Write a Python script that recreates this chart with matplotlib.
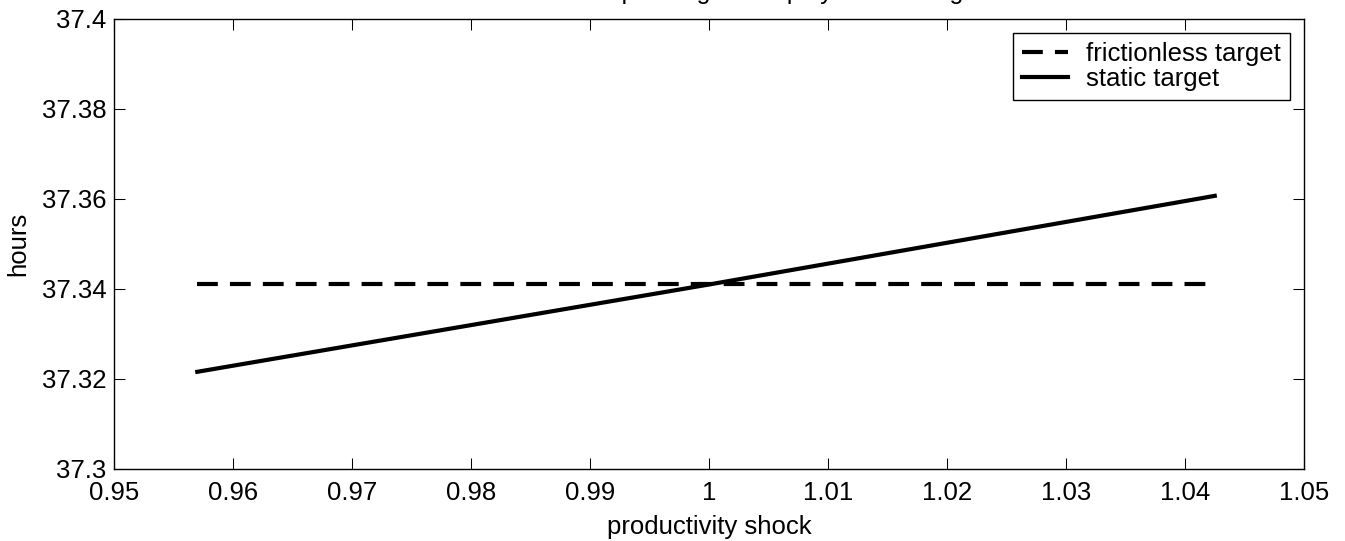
import matplotlib
matplotlib.use('Agg')
from matplotlib import pyplot
from matplotlib.ticker import FixedLocator, FixedFormatter

# Values
shock = [0.957, 1.0, 1.0425]
frictionless_target = [37.3410, 37.3410, 37.3410]
static_target = [37.3216, 37.3410, 37.3607]

x_ticks = [0.95, 0.96, 0.97, 0.98, 0.99, 1.0, 1.01, 1.02, 1.03, 1.04, 1.05]
x_tick_labels = ['0.95', '0.96', '0.97', '0.98', '0.99', '1', '1.01', '1.02', '1.03', '1.04', '1.05']
y_ticks = [37.30, 37.32, 37.34, 37.36, 37.38, 37.40]
y_tick_labels = ['37.3', '37.32', '37.34', '37.36', '37.38', '37.4']

TITLE = 'Hours choice depending on employment change'
FONT_SIZE = 18.5


def main():
    pyplot.rcParams['font.family'] = ['Liberation Sans', 'DejaVu Sans']

    figure = pyplot.figure(figsize=(13.45, 5.41), dpi=100)
    axes = figure.add_axes([114 / 1345, 1 - 469 / 541, 1190 / 1345, 450 / 541])

    dashed, = axes.plot(shock, frictionless_target, color='k', linewidth=3, label='frictionless target')
    dashed.set_dashes((5, 2.9))
    axes.plot(shock, static_target, color='k', linewidth=3, label='static target')

    axes.set_xlim(0.95, 1.05)
    axes.set_ylim(37.3, 37.4)
    axes.xaxis.set_major_locator(FixedLocator(x_ticks))
    axes.xaxis.set_major_formatter(FixedFormatter(x_tick_labels))
    axes.yaxis.set_major_locator(FixedLocator(y_ticks))
    axes.yaxis.set_major_formatter(FixedFormatter(y_tick_labels))
    axes.tick_params(direction='in', length=8, width=0.75, top=True, right=True,
                     labelsize=FONT_SIZE, colors='k')
    axes.tick_params(axis='y', pad=5.5)
    axes.tick_params(axis='x', pad=9)
    for spine in axes.spines.values():
        spine.set_linewidth(1.0)
        spine.set_color('k')

    axes.set_xlabel('productivity shock', fontsize=FONT_SIZE, labelpad=7)
    axes.set_ylabel('hours', fontsize=FONT_SIZE, labelpad=8)

    # the title sits mostly above the top edge of the figure, as in the reference
    figure.text((114 + 595) / 1345, 1.002, TITLE, fontsize=18, ha='center', va='baseline')

    legend = axes.legend(loc='upper right', fontsize=FONT_SIZE, fancybox=False, framealpha=1,
                         edgecolor='k', handlelength=1.8, handletextpad=0.7,
                         borderpad=0.35, labelspacing=0.05, borderaxespad=0.55)
    legend.get_frame().set_linewidth(1.0)

    figure.savefig('out.png', dpi=100)


if __name__ == '__main__':
    main()
